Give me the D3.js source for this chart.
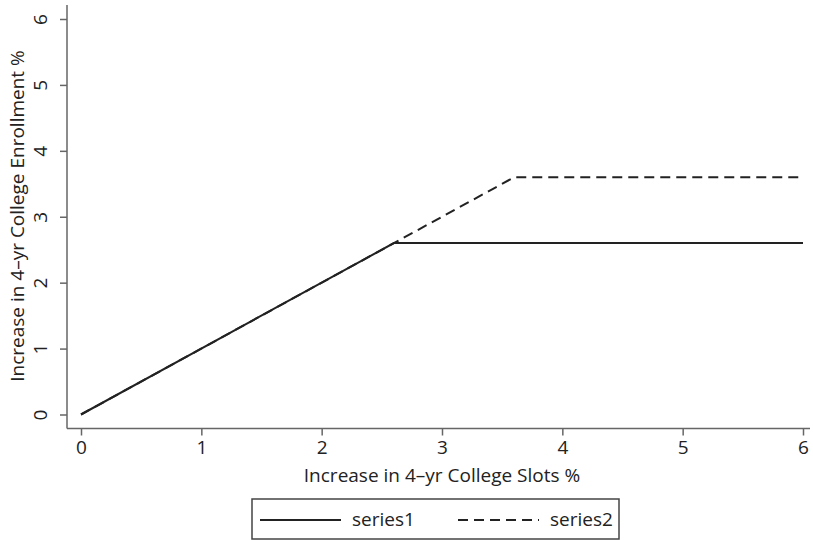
<!DOCTYPE html>
<html><head><meta charset="utf-8">
<script src="https://cdn.jsdelivr.net/npm/d3@7"></script>
<style>body{margin:0;background:#fff}svg{display:block}text{font-family:"Open Sans",sans-serif;fill:#222}</style>
</head><body><svg id="c" width="813" height="540"></svg>
<script>
const xTicks = [0,1,2,3,4,5,6];
const yTicks = [0,1,2,3,4,5,6];
const series1 = [{x:0,y:0},{x:2.6,y:2.6},{x:6,y:2.6}];
const series2 = [{x:0,y:0},{x:3.6,y:3.6},{x:6,y:3.6}];
const seriesNames = ["series1","series2"];
const xTitle = "Increase in 4\u2013yr College Slots %";
const yTitle = "Increase in 4\u2013yr College Enrollment %";

const svg = d3.select("#c");
const x = d3.scaleLinear().domain([0,6]).range([81,803]);
const y = d3.scaleLinear().domain([0,6]).range([414.5,19]);
const axisColor = "#666";
const fs = 19;

// axis lines
svg.append("line").attr("x1",67).attr("x2",810).attr("y1",428.5).attr("y2",428.5).attr("stroke",axisColor).attr("stroke-width",1.5);
svg.append("line").attr("x1",67).attr("x2",67).attr("y1",5).attr("y2",428.5).attr("stroke",axisColor).attr("stroke-width",1.5);

const xa = svg.append("g").attr("transform","translate(0,428.5)")
  .call(d3.axisBottom(x).tickValues(xTicks).tickFormat(d3.format("d")).tickSize(7).tickPadding(5));
xa.select(".domain").remove();
xa.selectAll("line").attr("stroke",axisColor).attr("stroke-width",1.5);
xa.selectAll("text").style("font-size",fs+"px").style("font-family","Open Sans").attr("fill","#222");

const ya = svg.append("g").attr("transform","translate(67,0)")
  .call(d3.axisLeft(y).tickValues(yTicks).tickFormat(d3.format("d")).tickSize(7).tickPadding(4));
ya.select(".domain").remove();
ya.selectAll("line").attr("stroke",axisColor).attr("stroke-width",1.5);
ya.selectAll("text").style("font-size",fs+"px").style("font-family","Open Sans").attr("fill","#222")
  .attr("x",null).attr("dy",null).attr("text-anchor","middle")
  .attr("transform","translate(-20,0) rotate(-90)");

// titles
svg.append("text").attr("x",442).attr("y",482).attr("text-anchor","middle").style("font-size",fs+"px").text(xTitle);
svg.append("text").attr("transform","translate(24,216) rotate(-90)").attr("text-anchor","middle").style("font-size",fs+"px").text(yTitle);

// lines
const line = d3.line().x(d=>x(d.x)).y(d=>y(d.y));
svg.append("path").datum(series2).attr("d",line).attr("fill","none").attr("stroke","#222").attr("stroke-width",2).attr("stroke-dasharray","10,6");
svg.append("path").datum(series1).attr("d",line).attr("fill","none").attr("stroke","#222").attr("stroke-width",2);

// legend
svg.append("rect").attr("x",252).attr("y",499).attr("width",367).attr("height",40).attr("fill","none").attr("stroke","#444").attr("stroke-width",1.5);
const leg = [{name:seriesNames[0],x1:260,dash:null},{name:seriesNames[1],x1:458,dash:"10,6"}];
leg.forEach(l=>{
  svg.append("line").attr("x1",l.x1).attr("x2",l.x1+81).attr("y1",520).attr("y2",520).attr("stroke","#222").attr("stroke-width",2).attr("stroke-dasharray",l.dash);
  svg.append("text").attr("x",l.x1+92).attr("y",526).style("font-size",fs+"px").text(l.name);
});
</script></body></html>
